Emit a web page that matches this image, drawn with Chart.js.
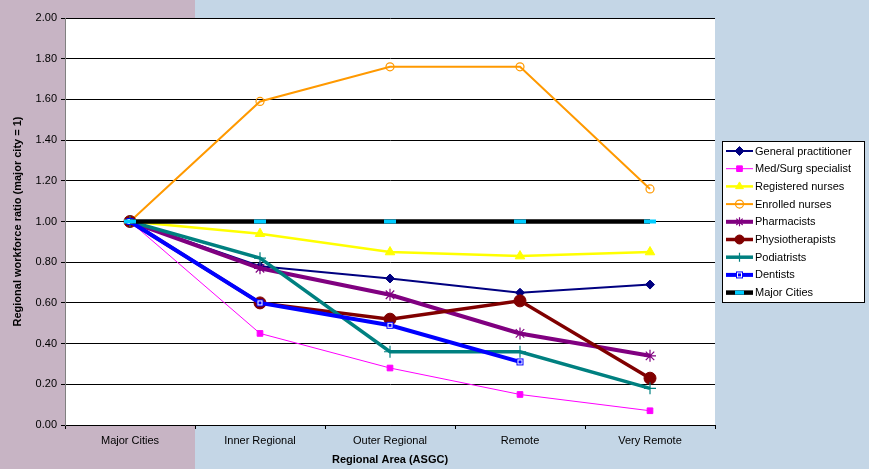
<!DOCTYPE html>
<html>
<head>
<meta charset="utf-8">
<script src="https://cdn.jsdelivr.net/npm/chart.js@4/dist/chart.umd.min.js"></script>
<style>
  html, body { margin: 0; padding: 0; background: #C4D6E6; }
  #wrap { width: 869px; height: 469px; }
</style>
</head>
<body>
<div id="wrap"><canvas id="chart" width="869" height="469"></canvas></div>
<script>
// Regional workforce ratio by ASGC remoteness area (major city = 1)
const categories = ['Major Cities', 'Inner Regional', 'Outer Regional', 'Remote', 'Very Remote'];

const generalPractitioner = [1.00, 0.78, 0.72, 0.65, 0.69];
const medSurgSpecialist   = [1.00, 0.45, 0.28, 0.15, 0.07];
const registeredNurses    = [1.00, 0.94, 0.85, 0.83, 0.85];
const enrolledNurses      = [1.00, 1.59, 1.76, 1.76, 1.16];
const pharmacists         = [1.00, 0.77, 0.64, 0.45, 0.34];
const physiotherapists    = [1.00, 0.60, 0.52, 0.61, 0.23];
const podiatrists         = [1.00, 0.82, 0.36, 0.36, 0.18];
const dentists            = [1.00, 0.60, 0.49, 0.31, null];
const majorCities         = [1.00, 1.00, 1.00, 1.00, 1.00];

const yTickValues = [0.0, 0.2, 0.4, 0.6, 0.8, 1.0, 1.2, 1.4, 1.6, 1.8, 2.0];

// Open square with a centre dot, used as the dentists marker
function makeDentistMarker() {
  const c = document.createElement('canvas');
  c.width = 9; c.height = 9;
  const g = c.getContext('2d');
  g.fillStyle = '#FFFFFF';
  g.fillRect(1, 1, 7, 7);
  g.strokeStyle = '#0000FF';
  g.lineWidth = 1;
  g.strokeRect(1.5, 1.5, 6, 6);
  g.fillStyle = '#0000FF';
  g.fillRect(3, 3, 3, 3);
  return c;
}
const dentistMarker = makeDentistMarker();

function series(label, data, color, width, style, radius, extra) {
  return Object.assign({
    label: label,
    data: data,
    borderColor: color,
    backgroundColor: color,
    borderWidth: width,
    pointStyle: style,
    pointRadius: radius,
    pointHoverRadius: radius,
    pointBackgroundColor: color,
    pointBorderColor: color,
    pointBorderWidth: 1,
    tension: 0,
    spanGaps: false
  }, extra || {});
}

const datasets = [
  series('General practitioner', generalPractitioner, '#000080', 2, 'rectRot', 4.5),
  series('Med/Surg specialist', medSurgSpecialist, '#FF00FF', 1, 'rect', 4),
  series('Registered nurses', registeredNurses, '#FFFF00', 2.5, 'triangle', 5.5),
  series('Enrolled nurses', enrolledNurses, '#FF9900', 2, 'circle', 4,
         { pointBackgroundColor: 'rgba(255,255,255,0)', pointBorderWidth: 1.2 }),
  series('Pharmacists', pharmacists, '#800080', 4, 'star', 6, { pointBorderWidth: 1.2 }),
  series('Physiotherapists', physiotherapists, '#800000', 3.5, 'circle', 6),
  series('Podiatrists', podiatrists, '#008080', 3.5, 'cross', 6, { pointBorderWidth: 1.2 }),
  series('Dentists', dentists, '#0000FF', 4, dentistMarker, 4),
  series('Major Cities', majorCities, '#000000', 4.5, 'line', 6,
         { pointBorderColor: '#00CCFF', pointBackgroundColor: '#00CCFF', pointBorderWidth: 4 })
];
// later series are painted above earlier ones
datasets.forEach((d, i) => { d.order = datasets.length - 1 - i; });

const backgroundPlugin = {
  id: 'panelBackground',
  beforeDraw(chart) {
    const { ctx, chartArea } = chart;
    ctx.save();
    ctx.fillStyle = '#C4D6E6';
    ctx.fillRect(0, 0, chart.width, chart.height);
    ctx.fillStyle = '#C7B4C4';
    ctx.fillRect(0, 0, 195, chart.height);
    ctx.fillStyle = '#FFFFFF';
    ctx.fillRect(chartArea.left, chartArea.top,
                 chartArea.right - chartArea.left, chartArea.bottom - chartArea.top);
    ctx.restore();
  }
};

const legendLayout = { x: 722.5, y: 141.5, w: 142, h: 161, row0: 151, step: 17.7,
                       lineFrom: 726, lineTo: 753, textX: 755 };

const boxedLegendPlugin = {
  id: 'boxedLegend',
  afterDraw(chart) {
    const { ctx } = chart;
    const L = legendLayout;
    ctx.save();
    ctx.fillStyle = '#FFFFFF';
    ctx.fillRect(L.x, L.y, L.w, L.h);
    ctx.strokeStyle = '#000000';
    ctx.lineWidth = 1;
    ctx.strokeRect(L.x, L.y, L.w, L.h);
    chart.data.datasets.forEach((ds, i) => {
      const y = L.row0 + i * L.step;
      ctx.strokeStyle = ds.borderColor;
      ctx.lineWidth = ds.borderWidth;
      ctx.beginPath();
      ctx.moveTo(L.lineFrom, y);
      ctx.lineTo(L.lineTo, y);
      ctx.stroke();
      const mx = (L.lineFrom + L.lineTo) / 2;
      if (Chart.helpers && Chart.helpers.drawPoint) {
        ctx.fillStyle = ds.pointBackgroundColor;
        ctx.strokeStyle = ds.pointBorderColor;
        ctx.lineWidth = ds.pointBorderWidth;
        Chart.helpers.drawPoint(ctx, {
          pointStyle: ds.pointStyle,
          radius: Math.min(ds.pointRadius, 4.5),
          borderWidth: ds.pointBorderWidth,
          rotation: 0
        }, mx, y);
      }
      ctx.fillStyle = '#000000';
      ctx.font = "11px 'Liberation Sans', Arial, sans-serif";
      ctx.textAlign = 'left';
      ctx.textBaseline = 'middle';
      ctx.fillText(ds.label, L.textX, y + 0.5);
    });
    ctx.restore();
  }
};

Chart.defaults.font.family = "'Liberation Sans', Arial, sans-serif";
Chart.defaults.font.size = 11;
Chart.defaults.color = '#000000';

new Chart(document.getElementById('chart'), {
  type: 'line',
  data: { labels: categories, datasets: datasets },
  options: {
    responsive: false,
    animation: false,
    devicePixelRatio: 1,
    layout: { padding: { left: 11, right: 154, top: 18, bottom: 2 } },
    plugins: {
      legend: { display: false },
      tooltip: { enabled: false }
    },
    scales: {
      x: {
        type: 'category',
        offset: true,
        grid: { offset: true, drawOnChartArea: false, drawTicks: true, tickLength: 4, color: '#000000' },
        border: { color: '#000000', width: 1 },
        ticks: { padding: 5, maxRotation: 0, font: { size: 11 } },
        title: { display: true, text: 'Regional Area (ASGC)', font: { size: 11, weight: 'bold' }, padding: 0 },
        afterFit(scale) { scale.height = 42; }
      },
      y: {
        min: 0,
        max: 2,
        afterBuildTicks(scale) { scale.ticks = yTickValues.map(v => ({ value: v })); },
        grid: { color: '#000000', lineWidth: 1, drawTicks: true, tickLength: 4 },
        border: { color: '#808080', width: 1 },
        ticks: { padding: 4, callback: v => Number(v).toFixed(2), font: { size: 11 } },
        title: { display: true, text: 'Regional workforce ratio (major city = 1)', font: { size: 11, weight: 'bold' }, padding: 0 },
        afterFit(scale) { scale.width = 54; }
      }
    }
  },
  plugins: [backgroundPlugin, boxedLegendPlugin]
});
</script>
</body>
</html>
